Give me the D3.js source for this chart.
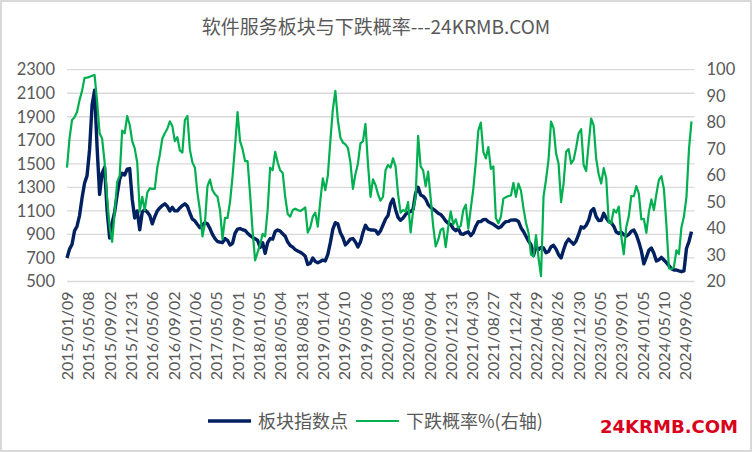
<!DOCTYPE html>
<html><head><meta charset="utf-8">
<script src="https://cdn.jsdelivr.net/npm/d3@7"></script>
<style>body{margin:0;background:#fff}svg{display:block}</style>
</head><body><svg id="c" width="752" height="452"></svg>
<script>
const title = "软件服务板块与下跌概率---24KRMB.COM";
const seriesNames = ["板块指数点", "下跌概率%(右轴)"];
const watermark = "24KRMB.COM";
const tickLabels = ["2015/01/09","2015/05/08","2015/09/02","2015/12/31","2016/05/06","2016/09/02",
  "2017/01/06","2017/05/05","2017/09/01","2018/01/05","2018/05/04","2018/08/31","2019/01/04",
  "2019/05/10","2019/09/06","2020/01/03","2020/05/08","2020/09/04","2020/12/31","2021/04/30",
  "2021/08/27","2021/12/24","2022/04/29","2022/08/26","2022/12/30","2023/05/05","2023/09/01",
  "2024/01/05","2024/05/10","2024/09/06"];
const labelEvery = 17;   // weeks between category labels
const sampleStep = 2;    // weeks between samples below
const totalWeeks = 500;
const leftTicks = [500,700,900,1100,1300,1500,1700,1900,2100,2300];
const rightTicks = [20,30,40,50,60,70,80,90,100];

// 板块指数点 (left axis), sampled every 2 weeks
const indexPoints = [
700,775,815,930,970,1060,1210,1335,1400,1620,
2000,2125,1640,1240,1420,1470,1100,870,1000,1090,
1240,1370,1420,1405,1455,1460,1200,1040,1100,940,
1090,1110,1090,1060,990,1050,1100,1125,1145,1160,
1140,1100,1130,1100,1100,1125,1145,1160,1140,1080,
1030,1015,985,958,980,1000,990,950,900,865,
840,835,830,865,850,810,825,910,945,950,
940,935,910,890,875,863,850,790,830,740,
830,865,860,925,938,928,906,885,835,806,
792,771,759,748,735,714,645,655,700,670,
660,670,682,675,730,830,945,1000,990,915,
873,811,833,860,865,836,794,835,915,978,
945,938,938,935,903,930,980,1030,1060,1160,
1200,1110,1045,1020,1040,1070,1090,1094,1115,1250,
1300,1236,1225,1200,1153,1130,1115,1100,1080,1070,
1045,1015,995,985,950,932,950,905,902,914,
922,890,915,970,1009,1009,1026,1028,1008,997,
986,970,955,964,990,1009,1011,1022,1023,1023,
1010,957,925,885,845,812,720,800,770,790,
785,745,755,796,807,775,728,700,770,830,
860,837,817,845,900,965,955,977,1020,1100,
1120,1050,1018,1020,1080,1040,1009,1000,970,920,
908,920,898,886,900,927,937,897,835,760,
650,705,765,785,740,675,685,705,683,660,
635,608,598,598,590,583,590,780,840,924];

// 下跌概率% (right axis), sampled every 2 weeks
const fallRate = [
63,74,81,82,84,88.5,92,96.9,97,97.3,
97.7,98,88,76,74,65,51.5,40.5,35,46,
57.5,60,77,76,82.5,79.2,73,70.3,65,46.4,
52,47,53.5,55.2,55,55,63,67.8,74,76,
77.7,80.5,78.7,73,74.5,69.5,68.7,81,82.5,69.8,
65,63,53.5,47,37,42,56,58.5,54.5,53,
52,47,36,44,44,50,59.6,71,84,73,
70,65.5,65.5,53,39,28,31,34,38,37,
47,63,62,69,65,62,61,52,45.5,44.5,
47,47.5,47,46.6,47.2,48,38.5,40.5,44.5,46,
40.7,50.5,59,54.5,60,73,85,92,81,74.4,
72.5,71.8,70.5,65,55,60.5,64.5,72.2,73,79.5,
64.5,52,58.6,56.5,53,50.5,52,62,64,63,
66.5,63.5,53,46,47,46.4,50,38.5,46.7,52,
75,63.5,62,56,61.5,51.5,41,33.3,35.7,39.5,
40.1,33,40.5,46.5,41.6,43.5,40.2,41,47,49,
40,47.6,55,65,77,80,69,66.5,70.8,62.5,
63.5,44,42,44.5,51.3,51.8,52.3,52.5,57.3,52,
57,54.3,47.7,42.2,38.5,30.2,29.5,37.5,29,22,
52,58.5,66,80.4,78,68.4,64.5,50,57,69,
70,64.5,66,70.5,76,77.5,64,61.7,72,81.5,
79,66.3,60.5,57,62.8,59,42.5,42,47.2,46,
48.3,37,30.3,40.6,44.6,52.3,52.2,56,53.2,43.5,
43.7,38.4,46.2,51,47,53,58.4,59.8,55,41.5,
25,24.6,25.5,31.8,30.4,40.5,44.6,52,70,80.5];

const NAVY = "#002060", GREEN = "#00b050", GRID = "#d9d9d9", TXT = "#595959";
const axisFont = "Lato, 'Open Sans', sans-serif";
const cjkFont = "'Noto Sans CJK SC', sans-serif";

const svg = d3.select("#c");
svg.append("rect").attr("x",1).attr("y",1).attr("width",750).attr("height",450)
  .attr("fill","#fff").attr("stroke",GRID).attr("stroke-width",2);

const plot = {left: 67, right: 694.5, top: 69.7, bottom: 281.5};
const x = d3.scaleLinear().domain([0, totalWeeks]).range([plot.left, 694]);
const yL = d3.scaleLinear().domain([500, 2300]).range([plot.bottom, plot.top]);
const yR = d3.scaleLinear().domain([20, 100]).range([plot.bottom, plot.top]);

// gridlines
svg.append("g").selectAll("line").data(leftTicks).join("line")
  .attr("x1", plot.left).attr("x2", plot.right)
  .attr("y1", d => yL(d)).attr("y2", d => yL(d))
  .attr("stroke", GRID).attr("stroke-width", 1.3);

// left axis
const gl = svg.append("g").attr("transform", `translate(${plot.left - 12},0)`)
  .call(d3.axisLeft(yL).tickValues(leftTicks).tickFormat(d3.format("d")).tickSize(0).tickPadding(0));
gl.select(".domain").remove();
gl.selectAll("text").attr("font-family", axisFont).attr("font-size", 16.5).attr("fill", TXT);

// right axis
const gr = svg.append("g").attr("transform", `translate(${plot.right + 12},0)`)
  .call(d3.axisRight(yR).tickValues(rightTicks).tickFormat(d3.format("d")).tickSize(0).tickPadding(0));
gr.select(".domain").remove();
gr.selectAll("text").attr("font-family", axisFont).attr("font-size", 16.5).attr("fill", TXT);

// bottom axis
const tickWeeks = tickLabels.map((d, i) => i * labelEvery);
const gb = svg.append("g").attr("transform", `translate(0,${plot.bottom + 10})`)
  .call(d3.axisBottom(x).tickValues(tickWeeks).tickFormat((d, i) => tickLabels[i]).tickSize(0).tickPadding(0));
gb.select(".domain").remove();
gb.selectAll("text")
  .attr("font-family", axisFont).attr("font-size", 16).attr("fill", TXT)
  .attr("text-anchor", "end").attr("transform", "rotate(-90)")
  .attr("x", 0).attr("y", 0).attr("dy", "0.35em");

// lines
const lineL = d3.line().x((d, i) => x(i * sampleStep)).y(d => yL(d));
const lineR = d3.line().x((d, i) => x(i * sampleStep)).y(d => yR(d));
svg.append("path").datum(indexPoints).attr("d", lineL)
  .attr("fill", "none").attr("stroke", NAVY).attr("stroke-width", 3.4).attr("stroke-linejoin", "round");
svg.append("path").datum(fallRate).attr("d", lineR)
  .attr("fill", "none").attr("stroke", GREEN).attr("stroke-width", 2.2).attr("stroke-linejoin", "round");

// title
svg.append("text").attr("x", 376).attr("y", 34).attr("text-anchor", "middle")
  .attr("font-family", cjkFont).attr("font-size", 19).attr("fill", TXT).text(title);

// legend
const leg = svg.append("g");
const legItems = [{name: seriesNames[0], color: NAVY, w: 3.4, x: 208},
                  {name: seriesNames[1], color: GREEN, w: 2.2, x: 356}];
legItems.forEach(it => {
  leg.append("line").attr("x1", it.x).attr("x2", it.x + 43).attr("y1", 421).attr("y2", 421)
    .attr("stroke", it.color).attr("stroke-width", it.w);
  leg.append("text").attr("x", it.x + 50).attr("y", 428)
    .attr("font-family", cjkFont).attr("font-size", 18).attr("fill", TXT).text(it.name);
});

// watermark
svg.append("text").attr("x", 600).attr("y", 433)
  .attr("font-family", "'DejaVu Sans', sans-serif").attr("font-weight", "bold")
  .attr("font-size", 18).attr("fill", "#d9001b")
  .attr("textLength", 138).attr("lengthAdjust", "spacingAndGlyphs").text(watermark);
</script></body></html>
